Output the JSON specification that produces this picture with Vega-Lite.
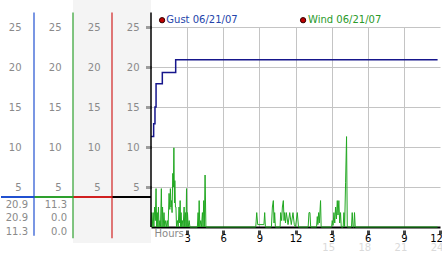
{
  "$schema": "https://vega.github.io/schema/vega-lite/v6.json",
  "padding": 0,
  "background": "white",
  "bounds": "flush",
  "spacing": 0,
  "config": {
    "font": "DejaVu Sans",
    "view": {"stroke": null},
    "axis": {"labelFont": "DejaVu Sans", "titleFont": "DejaVu Sans"}
  },
  "datasets": {
    "gust": [
      {"h": 0, "v": 11.3}, {"h": 0.22, "v": 12.9}, {"h": 0.33, "v": 15.0}, {"h": 0.42, "v": 17.9},
      {"h": 0.94, "v": 19.3}, {"h": 2.05, "v": 20.9}, {"h": 23.8, "v": 20.9}
    ],
    "wind": [
      {"h": 0, "v": 0}, {"h": 0.05, "v": 1.8}, {"h": 0.1, "v": 0}, {"h": 0.18, "v": 1.8}, {"h": 0.24, "v": 0},
      {"h": 0.3, "v": 2.5}, {"h": 0.36, "v": 0.8}, {"h": 0.42, "v": 4.8}, {"h": 0.47, "v": 0}, {"h": 0.52, "v": 1.8},
      {"h": 0.57, "v": 0}, {"h": 0.62, "v": 2.5}, {"h": 0.67, "v": 0}, {"h": 0.74, "v": 0.8}, {"h": 0.79, "v": 0},
      {"h": 0.86, "v": 4.8}, {"h": 0.91, "v": 0}, {"h": 0.96, "v": 2.5}, {"h": 1.01, "v": 0}, {"h": 1.08, "v": 1.8},
      {"h": 1.14, "v": 0}, {"h": 1.22, "v": 0.8}, {"h": 1.28, "v": 0}, {"h": 1.36, "v": 0.8}, {"h": 1.42, "v": 0},
      {"h": 1.5, "v": 4.2}, {"h": 1.56, "v": 2.2}, {"h": 1.61, "v": 4.8}, {"h": 1.66, "v": 2.5}, {"h": 1.7, "v": 3.3},
      {"h": 1.75, "v": 1.8}, {"h": 1.81, "v": 6.7}, {"h": 1.86, "v": 5.0}, {"h": 1.9, "v": 9.9}, {"h": 1.95, "v": 3.0},
      {"h": 1.98, "v": 5.8}, {"h": 2.03, "v": 2.5}, {"h": 2.07, "v": 2.5}, {"h": 2.12, "v": 0}, {"h": 2.2, "v": 0.8},
      {"h": 2.26, "v": 0}, {"h": 2.33, "v": 2.5}, {"h": 2.38, "v": 0.5}, {"h": 2.42, "v": 3.3}, {"h": 2.46, "v": 0},
      {"h": 2.5, "v": 1.8}, {"h": 2.55, "v": 0}, {"h": 2.61, "v": 0.8}, {"h": 2.67, "v": 0}, {"h": 2.75, "v": 2.5},
      {"h": 2.8, "v": 0}, {"h": 2.86, "v": 1.8}, {"h": 2.91, "v": 0}, {"h": 2.95, "v": 4.8}, {"h": 2.99, "v": 0},
      {"h": 3.03, "v": 1.8}, {"h": 3.09, "v": 0}, {"h": 3.17, "v": 0.8}, {"h": 3.23, "v": 0}, {"h": 3.85, "v": 0},
      {"h": 3.91, "v": 1.8}, {"h": 3.96, "v": 0}, {"h": 4.0, "v": 3.3}, {"h": 4.05, "v": 0}, {"h": 4.13, "v": 0.8},
      {"h": 4.19, "v": 0}, {"h": 4.27, "v": 1.8}, {"h": 4.32, "v": 0}, {"h": 4.38, "v": 3.3}, {"h": 4.43, "v": 0},
      {"h": 4.49, "v": 6.5}, {"h": 4.56, "v": 0}, {"h": 8.7, "v": 0}, {"h": 8.78, "v": 1.8}, {"h": 8.86, "v": 0.3},
      {"h": 9.38, "v": 0.3}, {"h": 9.44, "v": 1.8}, {"h": 9.5, "v": 0}, {"h": 10.0, "v": 0}, {"h": 10.08, "v": 2.5},
      {"h": 10.16, "v": 3.3}, {"h": 10.22, "v": 0.5}, {"h": 10.27, "v": 1.8}, {"h": 10.33, "v": 0}, {"h": 10.72, "v": 0},
      {"h": 10.77, "v": 1.8}, {"h": 10.85, "v": 0.8}, {"h": 10.91, "v": 2.5}, {"h": 10.99, "v": 3.3}, {"h": 11.05, "v": 0.8},
      {"h": 11.1, "v": 1.8}, {"h": 11.17, "v": 0.5}, {"h": 11.24, "v": 1.8}, {"h": 11.38, "v": 0.3}, {"h": 11.52, "v": 1.8},
      {"h": 11.65, "v": 0.3}, {"h": 11.79, "v": 1.8}, {"h": 11.9, "v": 0.3}, {"h": 12.0, "v": 0}, {"h": 12.15, "v": 1.8},
      {"h": 12.25, "v": 0}, {"h": 13.05, "v": 0}, {"h": 13.12, "v": 1.8}, {"h": 13.2, "v": 1.8}, {"h": 13.26, "v": 0},
      {"h": 13.75, "v": 0}, {"h": 13.81, "v": 1.3}, {"h": 13.86, "v": 0.3}, {"h": 13.92, "v": 1.8}, {"h": 13.98, "v": 0.5},
      {"h": 14.08, "v": 3.3}, {"h": 14.13, "v": 0}, {"h": 15.0, "v": 0}, {"h": 15.05, "v": 0.8}, {"h": 15.12, "v": 0.2},
      {"h": 15.19, "v": 1.8}, {"h": 15.26, "v": 0.5}, {"h": 15.33, "v": 2.5}, {"h": 15.4, "v": 1.0}, {"h": 15.47, "v": 3.3},
      {"h": 15.53, "v": 1.5}, {"h": 15.6, "v": 3.3}, {"h": 15.67, "v": 0.5}, {"h": 15.74, "v": 1.8}, {"h": 15.8, "v": 0},
      {"h": 15.96, "v": 0}, {"h": 16.02, "v": 1.8}, {"h": 16.08, "v": 0}, {"h": 16.16, "v": 5.6}, {"h": 16.24, "v": 11.3},
      {"h": 16.3, "v": 0}, {"h": 16.65, "v": 0}, {"h": 16.71, "v": 1.8}, {"h": 16.78, "v": 0}, {"h": 16.85, "v": 0},
      {"h": 16.9, "v": 1.8}, {"h": 16.96, "v": 0}, {"h": 23.8, "v": 0}
    ],
    "stats": [
      {"series": "Gust", "row": 1, "label": "20.9"},
      {"series": "Gust", "row": 2, "label": "20.9"},
      {"series": "Gust", "row": 3, "label": "11.3"},
      {"series": "Wind", "row": 1, "label": "11.3"},
      {"series": "Wind", "row": 2, "label": "0.0"},
      {"series": "Wind", "row": 3, "label": "0.0"}
    ],
    "clock": [{"hour": 15}, {"hour": 18}, {"hour": 21}, {"hour": 24}]
  },
  "hconcat": [
    {
      "width": 33, "height": 243,
      "view": {"fill": "white", "stroke": null},
      "resolve": {"scale": {"y": "independent"}, "axis": {"y": "independent"}},
      "layer": [
        {
          "data": {"values": [{"series": "Gust"}]},
          "mark": {"type": "rule", "color": "#2050d0", "strokeWidth": 2},
          "encoding": {
            "y": {"datum": 3.75, "type": "quantitative",
              "scale": {"domain": [-2, 28.375], "nice": false, "zero": false},
              "axis": {"orient": "right", "values": [5, 10, 15, 20, 25], "title": null, "domain": false, "ticks": false, "tickSize": 0, "grid": false,
                "labelAlign": "right", "labelBaseline": "middle", "labelPadding": -13, "labelColor": "#8a8a8a", "labelFontSize": 10}}
          }
        },
        {
          "data": {"name": "stats"},
          "transform": [{"filter": "datum.series == 'Gust'"}],
          "mark": {"type": "text", "align": "right", "baseline": "middle", "dx": -6, "fontSize": 10, "color": "#8a8a8a"},
          "encoding": {
            "x": {"datum": 1, "type": "quantitative", "scale": {"domain": [0, 1], "nice": false, "zero": false}, "axis": null},
            "y": {"field": "row", "type": "quantitative", "scale": {"domain": [-14.0, 3.806], "reverse": true, "nice": false, "zero": false}, "axis": null},
            "text": {"field": "label"}
          }
        }
      ]
    },
    {
      "width": 39, "height": 243,
      "view": {"fill": "white", "stroke": null},
      "resolve": {"scale": {"y": "independent"}, "axis": {"y": "independent"}},
      "layer": [
        {
          "data": {"values": [{"series": "Wind"}]},
          "mark": {"type": "rule", "color": "#2ea02e", "strokeWidth": 2},
          "encoding": {
            "y": {"datum": 3.75, "type": "quantitative",
              "scale": {"domain": [-2, 28.375], "nice": false, "zero": false},
              "axis": {"orient": "right", "values": [5, 10, 15, 20, 25], "title": null, "domain": false, "ticks": false, "tickSize": 0, "grid": false,
                "labelAlign": "right", "labelBaseline": "middle", "labelPadding": -12, "labelColor": "#8a8a8a", "labelFontSize": 10}}
          }
        },
        {
          "data": {"values": [{"series": "Gust"}]},
          "mark": {"type": "rule", "color": "#2050d0", "strokeWidth": 1.2},
          "encoding": {
            "x": {"datum": 0, "type": "quantitative", "scale": {"domain": [0, 1], "nice": false, "zero": false}, "axis": null},
            "y": {"datum": 26.8, "type": "quantitative", "scale": {"domain": [-2, 28.375], "nice": false, "zero": false}, "axis": null},
            "y2": {"datum": -1.1}
          }
        },
        {
          "data": {"name": "stats"},
          "transform": [{"filter": "datum.series == 'Wind'"}],
          "mark": {"type": "text", "align": "right", "baseline": "middle", "dx": -6, "fontSize": 10, "color": "#8a8a8a"},
          "encoding": {
            "x": {"datum": 1, "type": "quantitative"},
            "y": {"field": "row", "type": "quantitative", "scale": {"domain": [-14.0, 3.806], "reverse": true, "nice": false, "zero": false}, "axis": null},
            "text": {"field": "label"}
          }
        }
      ]
    },
    {
      "width": 39, "height": 243,
      "view": {"fill": "#f4f4f4", "stroke": null},
      "layer": [
        {
          "data": {"values": [{"series": "Third"}]},
          "mark": {"type": "rule", "color": "#d02020", "strokeWidth": 2},
          "encoding": {
            "y": {"datum": 3.75, "type": "quantitative",
              "scale": {"domain": [-2, 28.375], "nice": false, "zero": false},
              "axis": {"orient": "right", "values": [5, 10, 15, 20, 25], "title": null, "domain": false, "ticks": false, "tickSize": 0, "grid": false,
                "labelAlign": "right", "labelBaseline": "middle", "labelPadding": -12, "labelColor": "#8a8a8a", "labelFontSize": 10}}
          }
        },
        {
          "data": {"values": [{"series": "Wind"}]},
          "mark": {"type": "rule", "color": "#2ea02e", "strokeWidth": 1.2},
          "encoding": {
            "x": {"datum": 0, "type": "quantitative", "scale": {"domain": [0, 1], "nice": false, "zero": false}, "axis": null},
            "y": {"datum": 26.8, "type": "quantitative"},
            "y2": {"datum": -1.4}
          }
        }
      ]
    },
    {
      "width": 39, "height": 243,
      "view": {"fill": "#f4f4f4", "stroke": null},
      "layer": [
        {
          "data": {"values": [{"series": "Fourth"}]},
          "mark": {"type": "rule", "color": "black", "strokeWidth": 2},
          "encoding": {
            "y": {"datum": 3.75, "type": "quantitative",
              "scale": {"domain": [-2, 28.375], "nice": false, "zero": false},
              "axis": {"orient": "right", "values": [5, 10, 15, 20, 25], "title": null, "domain": false, "ticks": false, "tickSize": 0, "grid": false,
                "labelAlign": "right", "labelBaseline": "middle", "labelPadding": -12, "labelColor": "#8a8a8a", "labelFontSize": 10}}
          }
        },
        {
          "data": {"values": [{"series": "Third"}]},
          "mark": {"type": "rule", "color": "#d02020", "strokeWidth": 1.2},
          "encoding": {
            "x": {"datum": 0, "type": "quantitative", "scale": {"domain": [0, 1], "nice": false, "zero": false}, "axis": null},
            "y": {"datum": 26.8, "type": "quantitative"},
            "y2": {"datum": -1.4}
          }
        }
      ]
    },
    {
      "width": 289, "height": 227,
      "view": {"fill": "white", "stroke": null},
      "layer": [
        {
          "data": {"name": "gust"},
          "mark": {"type": "line", "interpolate": "step-after", "color": "#16168c", "strokeWidth": 1.5},
          "encoding": {
            "x": {"field": "h", "type": "quantitative",
              "scale": {"domain": [0, 24], "nice": false, "zero": false},
              "axis": {"values": [3, 6, 9, 12, 15, 18, 21, 24],
                "labelExpr": "datum.value % 12 == 0 ? '12' : '' + (datum.value % 12)",
                "title": "Hours", "titleAnchor": "start", "titleAlign": "left", "titleBaseline": "middle", "titleX": 3, "titleY": 6,
                "titleColor": "#8a8a8a", "titleFontSize": 10, "titleFontWeight": "normal",
                "domainColor": "black", "domainWidth": 2,
                "tickColor": "#444444", "tickSize": 8, "tickWidth": 3, "tickDash": [0, 3, 4, 1],
                "labelColor": "black", "labelFontSize": 10, "labelPadding": -2, "labelOverlap": false, "labelBound": false, "labelFlush": false,
                "labelOffset": {"condition": {"test": "datum.value == 24", "value": -4}, "value": 0},
                "grid": true, "gridColor": "#c4c4c4", "gridDash": [0, 27, 200, 0],
                "gridOpacity": {"condition": {"test": "datum.value == 24", "value": 0}, "value": 1}}},
            "y": {"field": "v", "type": "quantitative",
              "scale": {"domain": [0, 28.375], "nice": false, "zero": false},
              "axis": {"values": [5, 10, 15, 20, 25], "labels": false, "title": null, "domain": false,
                "grid": true, "gridColor": "#c4c4c4", "tickSize": 5, "tickWidth": 3, "tickColor": "#444444", "tickDash": [1, 1]}}
          }
        },
        {
          "data": {"name": "wind"},
          "mark": {"type": "line", "color": "#22a822", "strokeWidth": 1},
          "encoding": {
            "x": {"field": "h", "type": "quantitative"},
            "y": {"field": "v", "type": "quantitative"}
          }
        },
        {
          "data": {"values": [{"edge": "left"}]},
          "mark": {"type": "rule", "color": "black", "strokeWidth": 1.5},
          "encoding": {
            "x": {"datum": 0, "type": "quantitative"},
            "y": {"datum": 26.8, "type": "quantitative"},
            "y2": {"datum": 0}
          }
        },
        {
          "data": {"name": "clock"},
          "mark": {"type": "text", "fontSize": 10, "color": "#dadada", "baseline": "middle", "dx": -3},
          "encoding": {
            "x": {"field": "hour", "type": "quantitative"},
            "y": {"datum": -2.65, "type": "quantitative"},
            "text": {"field": "hour"}
          }
        },
        {
          "data": {"values": [{"series": "Gust", "label": "Gust 06/21/07"}]},
          "layer": [
            {
              "mark": {"type": "point", "filled": true, "fill": "#c00000", "stroke": "#300000", "strokeWidth": 1, "size": 28, "opacity": 1},
              "encoding": {"x": {"datum": 0.92, "type": "quantitative"}, "y": {"datum": 25.85, "type": "quantitative"}}
            },
            {
              "mark": {"type": "text", "align": "left", "baseline": "middle", "fontSize": 10, "color": "#2444aa"},
              "encoding": {"x": {"datum": 1.27, "type": "quantitative"}, "y": {"datum": 25.85, "type": "quantitative"}, "text": {"field": "label"}}
            }
          ]
        },
        {
          "data": {"values": [{"series": "Wind", "label": "Wind 06/21/07"}]},
          "layer": [
            {
              "mark": {"type": "point", "filled": true, "fill": "#c00000", "stroke": "#300000", "strokeWidth": 1, "size": 28, "opacity": 1},
              "encoding": {"x": {"datum": 12.63, "type": "quantitative"}, "y": {"datum": 25.85, "type": "quantitative"}}
            },
            {
              "mark": {"type": "text", "align": "left", "baseline": "middle", "fontSize": 10, "color": "#2a9a2a"},
              "encoding": {"x": {"datum": 13.04, "type": "quantitative"}, "y": {"datum": 25.85, "type": "quantitative"}, "text": {"field": "label"}}
            }
          ]
        }
      ]
    }
  ]
}
